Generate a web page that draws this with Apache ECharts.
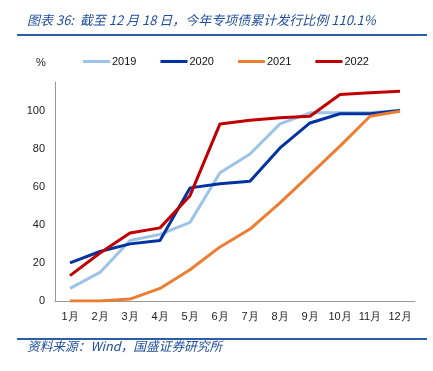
<!DOCTYPE html>
<html><head><meta charset="utf-8">
<script src="https://cdn.jsdelivr.net/npm/echarts@6/dist/echarts.min.js"></script>
<style>html,body{margin:0;padding:0;background:#fff}#c{width:433px;height:371px}</style>
</head><body><div id="c"></div>
<script>
var categories = ['1月','2月','3月','4月','5月','6月','7月','8月','9月','10月','11月','12月'];
var yTicks = [0, 20, 40, 60, 80, 100];
var s2019 = [6.6, 15, 31.8, 35, 41.3, 67.3, 77.2, 93, 98.8, 98.8, 98.8, 100];
var s2020 = [20, 26, 30, 31.8, 59.4, 61.6, 62.9, 80.4, 93.5, 98.3, 98.3, 100];
var s2021 = [0, 0, 1, 6.6, 16.4, 28.4, 37.8, 51.5, 66.4, 81.3, 97, 99.6];
var s2022 = [13.3, 25.2, 35.7, 38.4, 55.3, 93, 94.9, 96.2, 97, 108.4, 109.3, 110.1];
var names = ['2019','2020','2021','2022'];
var colors = ['#9DC3E6','#0033A0','#ED7D31','#C00000'];
var all = [s2019, s2020, s2021, s2022];

var chart = echarts.init(document.getElementById('c'), null, {renderer:'canvas'});
var titleColor = '#1F4E9C';
chart.setOption({
  animation: false,
  color: colors,
  grid: {left: 55, right: 18, top: 82, bottom: 70},
  legend: {
    data: names, top: 51, left: 78, itemWidth: 27, itemHeight: 3, itemGap: 24,
    icon: 'rect',
    textStyle: {fontFamily: 'Liberation Sans', fontSize: 11, color: '#111', padding: [0,0,0,-3]}
  },
  xAxis: {
    type: 'category', data: categories, boundaryGap: true,
    axisLine: {lineStyle: {color: '#999', width: 1}},
    axisTick: {show: false},
    axisLabel: {interval: 0, fontFamily: 'Liberation Sans', fontSize: 11, color: '#222', margin: 10}
  },
  yAxis: {
    type: 'value', min: 0, max: 115, interval: 20,
    axisLine: {show: true, lineStyle: {color: '#999', width: 1}},
    axisTick: {show: false},
    splitLine: {show: false},
    axisLabel: {fontFamily: 'Liberation Sans', fontSize: 11, color: '#222', margin: 10,
      formatter: function(v){ return yTicks.indexOf(v) >= 0 ? String(v) : ''; }}
  },
  series: all.map(function(d, i){
    return {name: names[i], type: 'line', data: d, symbol: 'none',
      lineStyle: {width: 3, color: colors[i]}, itemStyle: {color: colors[i]}, z: 2 + i};
  }),
  graphic: [
    {type: 'text', left: 27, top: 14, style: {text: '图表 36:  截至 12 月 18 日，今年专项债累计发行比例 110.1%',
      font: 'italic 13px "Noto Sans CJK SC", "Liberation Sans"', fill: titleColor}},
    {type: 'rect', shape: {x: 17, y: 34, width: 410, height: 2}, style: {fill: '#2E5DA8'}},
    {type: 'text', left: 36, top: 57, style: {text: '%', font: '11px "Liberation Sans"', fill: '#222'}},
    {type: 'rect', shape: {x: 17, y: 338, width: 410, height: 2}, style: {fill: '#2E5DA8'}},
    {type: 'text', left: 27, top: 340, style: {text: '资料来源：Wind，国盛证券研究所',
      font: 'italic 12.7px "Noto Sans CJK SC", "Liberation Sans"', fill: titleColor}}
  ]
});
</script></body></html>
